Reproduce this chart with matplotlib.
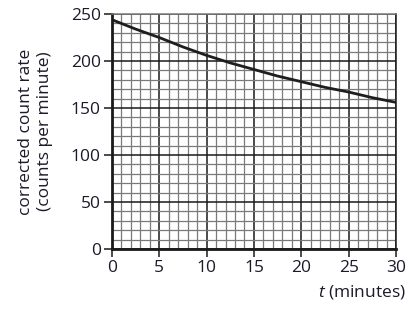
import matplotlib.pyplot as plt
import numpy as np

# values
t_min = [0, 2.5, 5, 7.5, 10, 12.5, 15, 17.5, 20, 22.5, 25, 27.5, 30]
count_rate = [244, 234, 225, 215, 206, 198, 191, 184, 178, 172, 167, 161, 156]

x_ticks = [0, 5, 10, 15, 20, 25, 30]
y_ticks = [0, 50, 100, 150, 200, 250]

plt.rcParams["font.family"] = ["Open Sans", "DejaVu Sans"]
plt.rcParams["mathtext.fontset"] = "custom"
plt.rcParams["mathtext.it"] = "Open Sans:italic"
plt.rcParams["mathtext.rm"] = "Open Sans"

fig = plt.figure(figsize=(4.16, 3.12), dpi=100)
ax = fig.add_axes([0.269, 0.202, 0.683, 0.753])

ax.set_xlim(0, 30)
ax.set_ylim(0, 250)

# graph paper grid
ax.set_xticks(np.arange(0, 31, 1), minor=True)
ax.set_yticks(np.arange(0, 251, 10), minor=True)
ax.grid(which="minor", color="#7a7a7a", lw=0.9)
ax.grid(which="major", color="#1a1a1a", lw=1.1)
ax.set_axisbelow(True)

ax.plot(t_min, count_rate, color="#1e1e1e", lw=2.0, solid_capstyle="butt")

ax.set_xticks(x_ticks)
ax.set_yticks(y_ticks)
ax.tick_params(which="major", length=6, width=1.1, color="#1a1a1a",
               labelsize=12.5, labelcolor="#1a1a2a", pad=2)
ax.tick_params(which="minor", length=0)

for side in ("left", "bottom"):
    ax.spines[side].set_linewidth(2.0)
    ax.spines[side].set_color("#1a1a1a")
ax.spines["right"].set_linewidth(1.1)
ax.spines["right"].set_color("#1a1a1a")
ax.spines["top"].set_linewidth(1.1)
ax.spines["top"].set_color("#7a7a7a")

ax.set_ylabel("corrected count rate\n(counts per minute)", fontsize=12.5,
              color="#1a1a2a", linespacing=1.2, labelpad=13)
fig.text(0.975, 0.035, "$t$ (minutes)", ha="right", va="bottom",
         fontsize=12.5, color="#1a1a2a")

fig.savefig("out.png", dpi=100)
